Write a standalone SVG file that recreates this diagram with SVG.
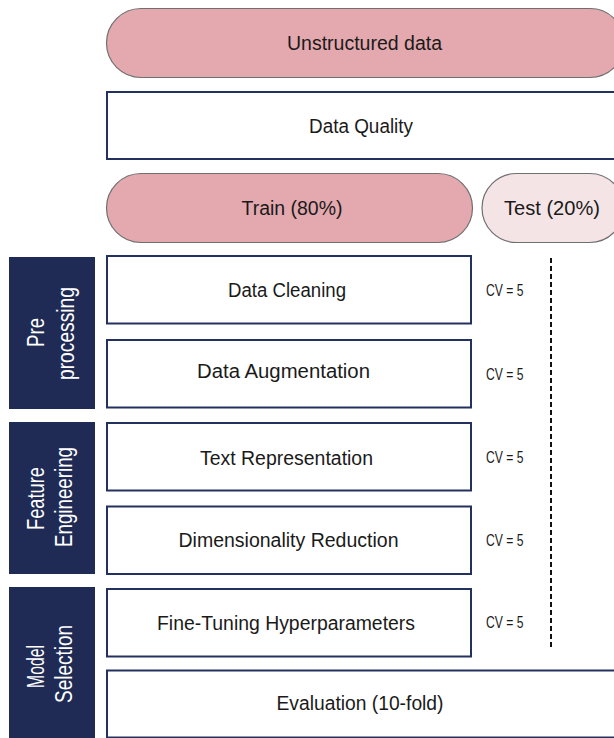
<svg xmlns="http://www.w3.org/2000/svg" width="614" height="738" viewBox="0 0 614 738">
<style>
.pill{stroke:#6f6f6f;stroke-width:1.2}
.box{fill:#fff;stroke:#23315e;stroke-width:2}
.bar{fill:#1f2b55}
.t{font-family:"Liberation Sans",Arial,sans-serif;fill:#1a1a1a;text-anchor:middle;font-size:20px}
.side{font-family:"Liberation Sans",Arial,sans-serif;fill:#ffffff;font-size:23px;text-anchor:middle}
.cv{font-family:"Liberation Sans",Arial,sans-serif;fill:#1a1a1a;font-size:17px}
</style>
<rect width="614" height="738" fill="#ffffff"/>
<g id="unstructured">
<rect class="pill" x="106.5" y="8.5" width="518" height="69" rx="34.5" fill="#e4a9af"/>
<text class="t" x="364.5" y="50" font-size="22" textLength="155" lengthAdjust="spacingAndGlyphs">Unstructured data</text>
</g>
<g id="data-quality">
<rect class="box" x="107" y="92" width="520" height="67"/>
<text class="t" x="361" y="132.5" font-size="21" textLength="104" lengthAdjust="spacingAndGlyphs">Data Quality</text>
</g>
<g id="train">
<rect class="pill" x="106.5" y="173.5" width="366" height="69" rx="34.5" fill="#e4a9af"/>
<text class="t" x="292" y="215" font-size="21" textLength="101" lengthAdjust="spacingAndGlyphs">Train (80%)</text>
</g>
<g id="test">
<rect class="pill" x="482" y="173.5" width="142" height="69" rx="34.5" fill="#f5e4e6"/>
<text class="t" x="552" y="215" font-size="21" textLength="96" lengthAdjust="spacingAndGlyphs">Test (20%)</text>
</g>
<g id="preprocessing">
<rect class="bar" x="9" y="257" width="86" height="152"/>
<text class="side" transform="translate(43.5,332.5) rotate(-90)" textLength="29" lengthAdjust="spacingAndGlyphs">Pre</text>
<text class="side" transform="translate(74,333.5) rotate(-90)" textLength="93" lengthAdjust="spacingAndGlyphs">processing</text>
</g>
<g id="feature-engineering">
<rect class="bar" x="9" y="422" width="86" height="152"/>
<text class="side" transform="translate(43.5,498.5) rotate(-90)" textLength="63" lengthAdjust="spacingAndGlyphs">Feature</text>
<text class="side" transform="translate(72,497) rotate(-90)" textLength="100" lengthAdjust="spacingAndGlyphs">Engineering</text>
</g>
<g id="model-selection">
<rect class="bar" x="9" y="587" width="86" height="160"/>
<text class="side" transform="translate(43.5,666.5) rotate(-90)" textLength="43" lengthAdjust="spacingAndGlyphs">Model</text>
<text class="side" transform="translate(72,664) rotate(-90)" textLength="78" lengthAdjust="spacingAndGlyphs">Selection</text>
</g>
<g id="data-cleaning">
<rect class="box" x="107" y="256" width="364" height="67.5"/>
<text class="t" x="287" y="297" textLength="118" lengthAdjust="spacingAndGlyphs">Data Cleaning</text>
<text class="cv" x="486" y="296" textLength="37.5" lengthAdjust="spacingAndGlyphs">CV = 5</text>
</g>
<g id="data-augmentation">
<rect class="box" x="107" y="340" width="364" height="67.5"/>
<text class="t" x="283.5" y="378.3" textLength="173" lengthAdjust="spacingAndGlyphs">Data Augmentation</text>
<text class="cv" x="486" y="380" textLength="37.5" lengthAdjust="spacingAndGlyphs">CV = 5</text>
</g>
<g id="text-representation">
<rect class="box" x="107" y="423" width="364" height="67.5"/>
<text class="t" x="286.5" y="465" textLength="173" lengthAdjust="spacingAndGlyphs">Text Representation</text>
<text class="cv" x="486" y="463" textLength="37.5" lengthAdjust="spacingAndGlyphs">CV = 5</text>
</g>
<g id="dimensionality-reduction">
<rect class="box" x="107" y="506.5" width="364" height="67.5"/>
<text class="t" x="288.5" y="547.3" textLength="220" lengthAdjust="spacingAndGlyphs">Dimensionality Reduction</text>
<text class="cv" x="486" y="546" textLength="37.5" lengthAdjust="spacingAndGlyphs">CV = 5</text>
</g>
<g id="fine-tuning">
<rect class="box" x="107" y="589" width="364" height="67.5"/>
<text class="t" x="286" y="630" textLength="258" lengthAdjust="spacingAndGlyphs">Fine-Tuning Hyperparameters</text>
<text class="cv" x="486" y="628" textLength="37.5" lengthAdjust="spacingAndGlyphs">CV = 5</text>
</g>
<g id="evaluation">
<rect class="box" x="107" y="670.5" width="520" height="67"/>
<text class="t" x="360" y="710" font-size="21" textLength="167" lengthAdjust="spacingAndGlyphs">Evaluation (10-fold)</text>
</g>
<g id="connectors">
<line x1="551" y1="258" x2="551" y2="650" stroke="#111" stroke-width="2" stroke-dasharray="5 3"/>
</g>
</svg>
